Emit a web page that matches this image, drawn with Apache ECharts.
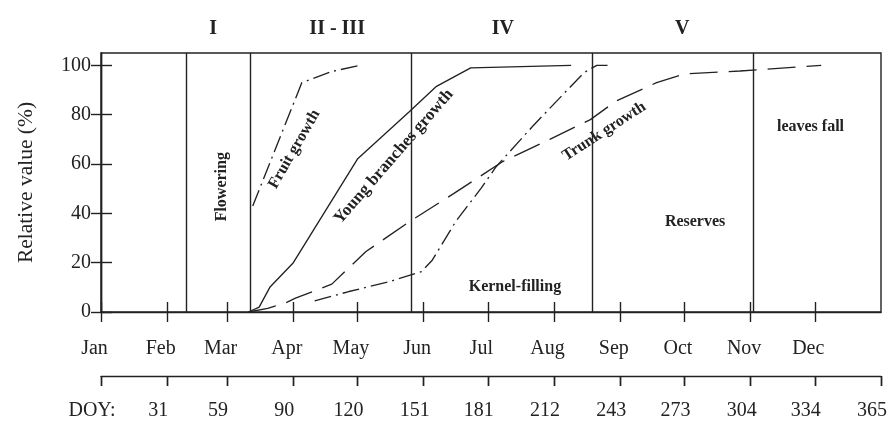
<!DOCTYPE html>
<html>
<head>
<meta charset="utf-8">
<script src="https://cdn.jsdelivr.net/npm/echarts@6/dist/echarts.min.js"></script>
<style>
  html, body { margin: 0; padding: 0; background: #fff; }
  #chart { width: 890px; height: 421px; }
</style>
</head>
<body>
<div id="chart"></div>
<script>
// Month starts (day of year) and their names
const monthDays = [0, 31, 59, 90, 120, 151, 181, 212, 243, 273, 304, 334];
const monthNames = ['Jan', 'Feb', 'Mar', 'Apr', 'May', 'Jun', 'Jul', 'Aug', 'Sep', 'Oct', 'Nov', 'Dec'];
// Day-of-year scale ticks
const doyTicks = [0, 31, 59, 90, 120, 151, 181, 212, 243, 273, 304, 334, 365];
const yTicks = [0, 20, 40, 60, 80, 100];

// Boundaries between phenological phases (DOY)
const phaseBounds = [40, 70, 145, 230, 305];

// Cumulative growth curves: [DOY, relative value %]
const fruitGrowth = [[71, 43], [94, 93], [108, 97.5], [121, 100]];
const youngBranchesGrowth = [[69, 0], [74, 2], [79, 10], [90, 20], [120, 62], [144, 81], [157, 91.5], [173, 99], [220, 100]];
const trunkGrowth = [[69, 0], [78, 1.5], [86, 3.5], [91, 5.6], [108, 11.3], [124, 24.5], [145, 37], [165, 48], [188, 61], [210, 70], [229, 78], [241, 85.5], [260, 93], [273, 96.5], [299, 97.7], [337, 100]];
const kernelFilling = [[100, 4.5], [116, 8.3], [135, 12.3], [150, 16.4], [155, 21], [166, 36.7], [178, 50.3], [185, 59], [202, 75.3], [216, 88], [226, 97], [232, 100], [239, 100]];

// Phase numerals and in-plot notes: text, [DOY, value], rotation (deg)
const phaseNames = ['I', 'II - III', 'IV', 'V'];
const phaseNamePos = [[52.5, 114.6], [110.5, 114.6], [188, 114.6], [272, 114.6]];
const notes = [
  { text: 'Flowering', at: [56.6, 50.8], rotate: 90 },
  { text: 'Fruit growth', at: [90.5, 66], rotate: 60 },
  { text: 'Young branches growth', at: [137, 63], rotate: 49 },
  { text: 'Trunk growth', at: [235.5, 73.2], rotate: 33 },
  { text: 'Kernel-filling', at: [193.7, 10.3], rotate: 0 },
  { text: 'Reserves', at: [278, 36.4], rotate: 0 },
  { text: 'leaves fall', at: [332, 75.2], rotate: 0 }
];

const INK = '#222';
const FONT = '"Liberation Serif", "DejaVu Serif", serif';
const PLOT = { left: 101, right: 9, top: 53, bottom: 109 };
const PLOT_H = 421 - PLOT.top - PLOT.bottom;

const chart = echarts.init(document.getElementById('chart'), null, { renderer: 'canvas' });

const tickStyle = { color: INK, width: 1.4 };

function xAxis(extra) {
  return Object.assign({
    type: 'value', min: 0, max: 365,
    splitLine: { show: false },
    axisLine: { show: true, onZero: false, lineStyle: { color: INK, width: 1.4 } }
  }, extra);
}

function lineSeries(name, data, type) {
  return {
    name: name, type: 'line', data: data, symbol: 'none', smooth: false,
    xAxisIndex: 0, yAxisIndex: 0, z: 3,
    lineStyle: { color: INK, width: 1.35, type: type }
  };
}

const option = {
  backgroundColor: '#fff',
  animation: false,
  grid: [
    // plot area
    Object.assign({ show: true, borderColor: INK, borderWidth: 1.4, backgroundColor: 'transparent' }, PLOT),
    // strip holding the day-of-year scale (its bottom edge is the scale line)
    { left: PLOT.left, right: PLOT.right, top: 367, height: 10, show: false }
  ],
  xAxis: [
    // month scale: line, downward ticks and names
    xAxis({
      gridIndex: 0, position: 'bottom',
      axisTick: { show: true, inside: false, length: 10, customValues: monthDays, lineStyle: tickStyle },
      axisLabel: {
        show: true, customValues: monthDays, margin: 27,
        formatter: v => monthNames[monthDays.indexOf(v)] || '',
        color: INK, fontFamily: FONT, fontSize: 20, padding: [0, 13, 0, 0]
      }
    }),
    // month scale: upward ticks into the plot, sitting on the same line
    xAxis({
      gridIndex: 0, position: 'top', offset: -PLOT_H,
      axisLine: { show: false },
      axisTick: { show: true, inside: false, length: 10, customValues: monthDays, lineStyle: tickStyle },
      axisLabel: { show: false }
    }),
    // day-of-year scale: line, downward ticks and numbers
    xAxis({
      gridIndex: 1, position: 'bottom',
      axisTick: { show: true, inside: false, length: 10, customValues: doyTicks, lineStyle: tickStyle },
      axisLabel: {
        show: true, customValues: doyTicks, margin: 25,
        formatter: v => (v === 0 ? 'DOY:' : String(v)),
        color: INK, fontFamily: FONT, fontSize: 20, padding: [0, 18, 0, 0]
      }
    }),
    // day-of-year scale: upward ticks
    xAxis({
      gridIndex: 1, position: 'top',
      axisLine: { show: false },
      axisTick: { show: true, inside: true, length: 10, customValues: doyTicks, lineStyle: tickStyle },
      axisLabel: { show: false }
    })
  ],
  yAxis: [
    {
      gridIndex: 0, type: 'value', min: 0, max: 105, position: 'left',
      name: 'Relative value (%)', nameLocation: 'middle', nameGap: 64,
      nameTextStyle: { color: INK, fontFamily: FONT, fontSize: 21.5 },
      splitLine: { show: false },
      axisLine: { show: true, lineStyle: { color: INK, width: 1.4 } },
      axisTick: { show: true, inside: true, length: 11, customValues: yTicks, lineStyle: tickStyle },
      axisLabel: { show: true, customValues: yTicks, margin: 10, color: INK, fontFamily: FONT, fontSize: 20 }
    },
    {
      gridIndex: 0, type: 'value', min: 0, max: 105, position: 'right',
      splitLine: { show: false },
      axisLine: { show: true, lineStyle: { color: INK, width: 1.4 } },
      axisTick: { show: true, inside: true, length: 10, customValues: yTicks, lineStyle: tickStyle },
      axisLabel: { show: false }
    },
    { gridIndex: 1, type: 'value', min: 0, max: 1, show: false }
  ],
  series: [
    Object.assign(lineSeries('Young branches growth', youngBranchesGrowth, 'solid'), {
      markLine: {
        silent: true, symbol: 'none', label: { show: false },
        lineStyle: { color: INK, width: 1.4, type: 'solid' },
        data: phaseBounds.map(d => ({ xAxis: d }))
      }
    }),
    lineSeries('Fruit growth', fruitGrowth, [17, 5, 2, 5]),
    lineSeries('Trunk growth', trunkGrowth, [28, 11]),
    lineSeries('Kernel-filling', kernelFilling, [17, 5, 2, 5])
  ]
};

chart.setOption(option);

// Text annotations placed through the chart's own coordinate system
function placeText() {
  const elements = [];
  phaseNames.forEach((t, i) => {
    const p = chart.convertToPixel({ xAxisIndex: 0, yAxisIndex: 0 }, phaseNamePos[i]);
    elements.push({
      type: 'text', x: p[0], y: p[1], z: 10,
      style: { text: t, fill: INK, font: 'bold 20px ' + FONT, align: 'center', verticalAlign: 'middle' }
    });
  });
  notes.forEach(n => {
    const p = chart.convertToPixel({ xAxisIndex: 0, yAxisIndex: 0 }, n.at);
    const size = n.text === 'Young branches growth' ? 17 : 16;
    elements.push({
      type: 'text', x: p[0], y: p[1], z: 10,
      rotation: n.rotate * Math.PI / 180,
      style: { text: n.text, fill: INK, font: 'bold ' + size + 'px ' + FONT, align: 'center', verticalAlign: 'middle' }
    });
  });
  chart.setOption({ graphic: { elements: elements } });
}
placeText();
</script>
</body>
</html>
